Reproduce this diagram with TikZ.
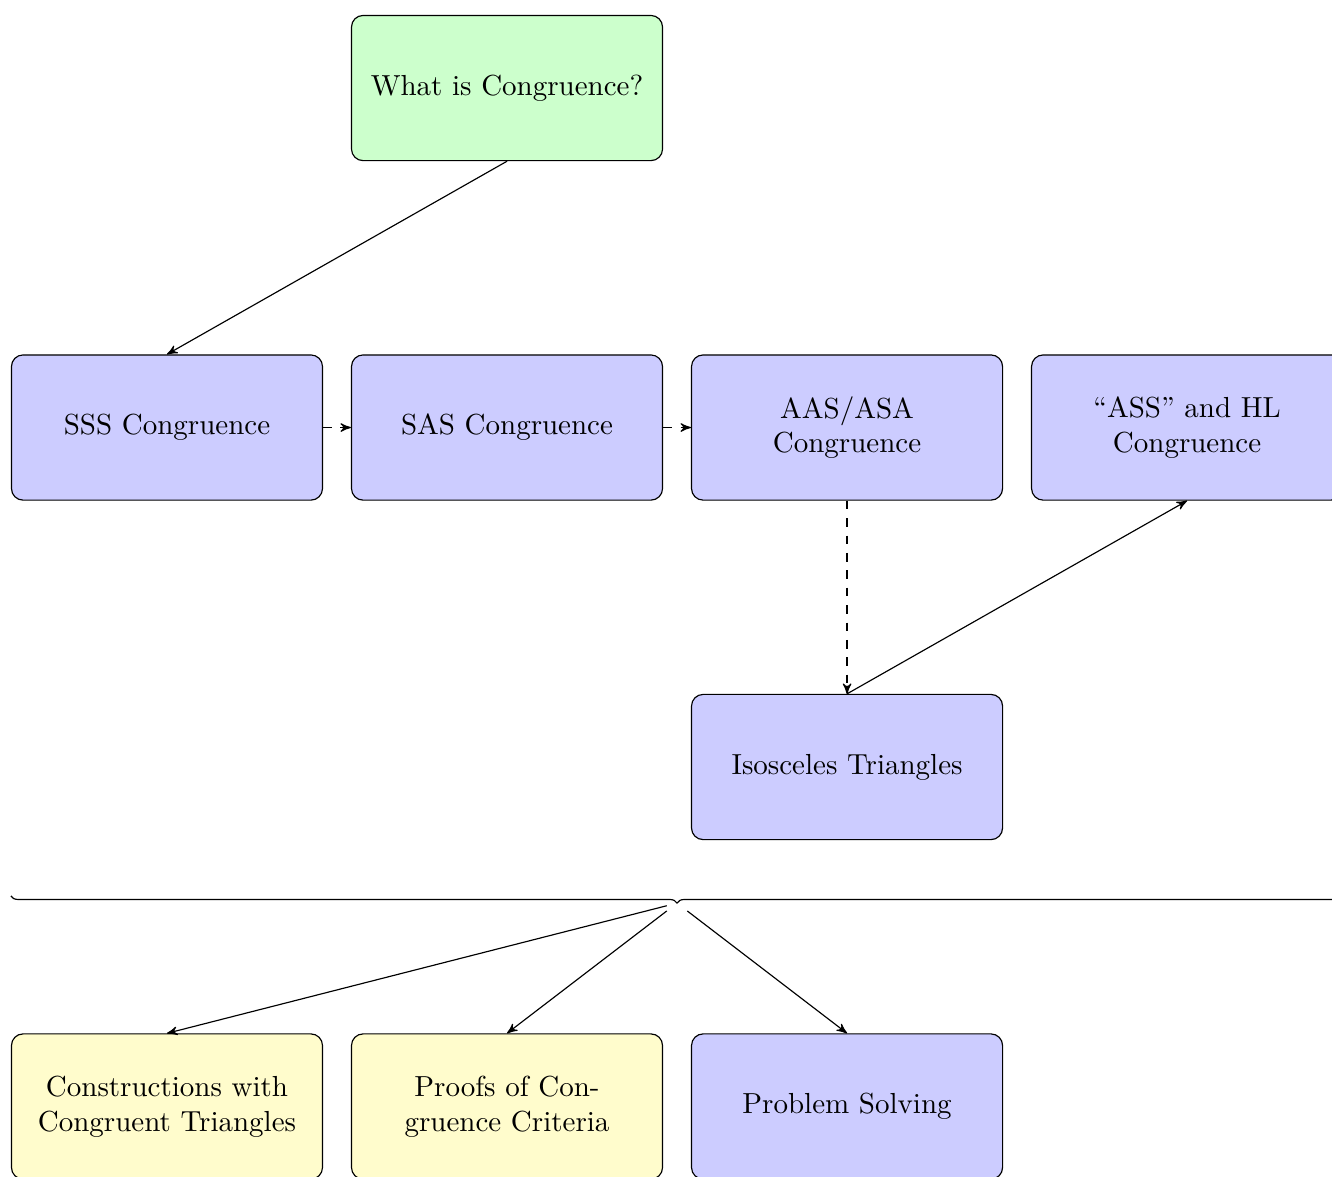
\documentclass[tikz,border=0pt]{standalone}
\usepackage{tikz}
\usetikzlibrary{arrows}
\usetikzlibrary{positioning,decorations.pathreplacing}
\tikzset{
    cell/.style = {draw, rounded corners,
                 minimum width=3.77cm, minimum height=1.76cm, align=center},
    topic/.style = {cell, fill=blue!20, text width=3.2cm},
}

\begin{document}
\begin{tikzpicture}[->,>=stealth', node distance=66.6pt and 9.6pt]
 \useasboundingbox (-2.024,-9.073) rectangle (14.121,5.182);
 \node (sss) [topic] at (0,0) {SSS Congruence};
 \node (sas) [topic, right=of sss] {SAS Congruence};
 \node (aas) [topic, right=of sas] {AAS/ASA Congruence};
 \node (ass) [topic, right=of aas] {``ASS'' and HL Congruence};
 \node (wic) [cell, fill=green!20, above=of sas] {What is Congruence?};
 \node (iso) [topic, below=of aas] {Isosceles Triangles};
 \node (prb) [topic, below=of iso] {Problem Solving};
 \node (prf) [topic, fill=yellow!20, left=of prb] {Proofs of Congruence Criteria};
 \node (con) [topic, fill=yellow!20, left=of prf] {Constructions with Congruent Triangles};

 \draw (wic.south) -- (sss.north);
 \draw[dashed] (sss) -- (sas);
 \draw[dashed] (sas) -- (aas);
 \draw[dashed] (aas) -- (iso);
 \draw (iso.north) -- (ass.south);

 % brace over the last row
 \coordinate (bl) at (sss.west |- iso.south);
 \coordinate (br) at (ass.east |- iso.south);
 \draw[-, decorate, decoration={brace, mirror}] ([yshift=-19.2pt]bl) -- ([yshift=-19.2pt]br)
   node (bt) [midway, yshift=-2.5pt] {};

 \draw (bt) -- (con.north);
 \draw (bt) -- (prf.north);
 \draw (bt) -- (prb.north);
\end{tikzpicture}
\end{document}
